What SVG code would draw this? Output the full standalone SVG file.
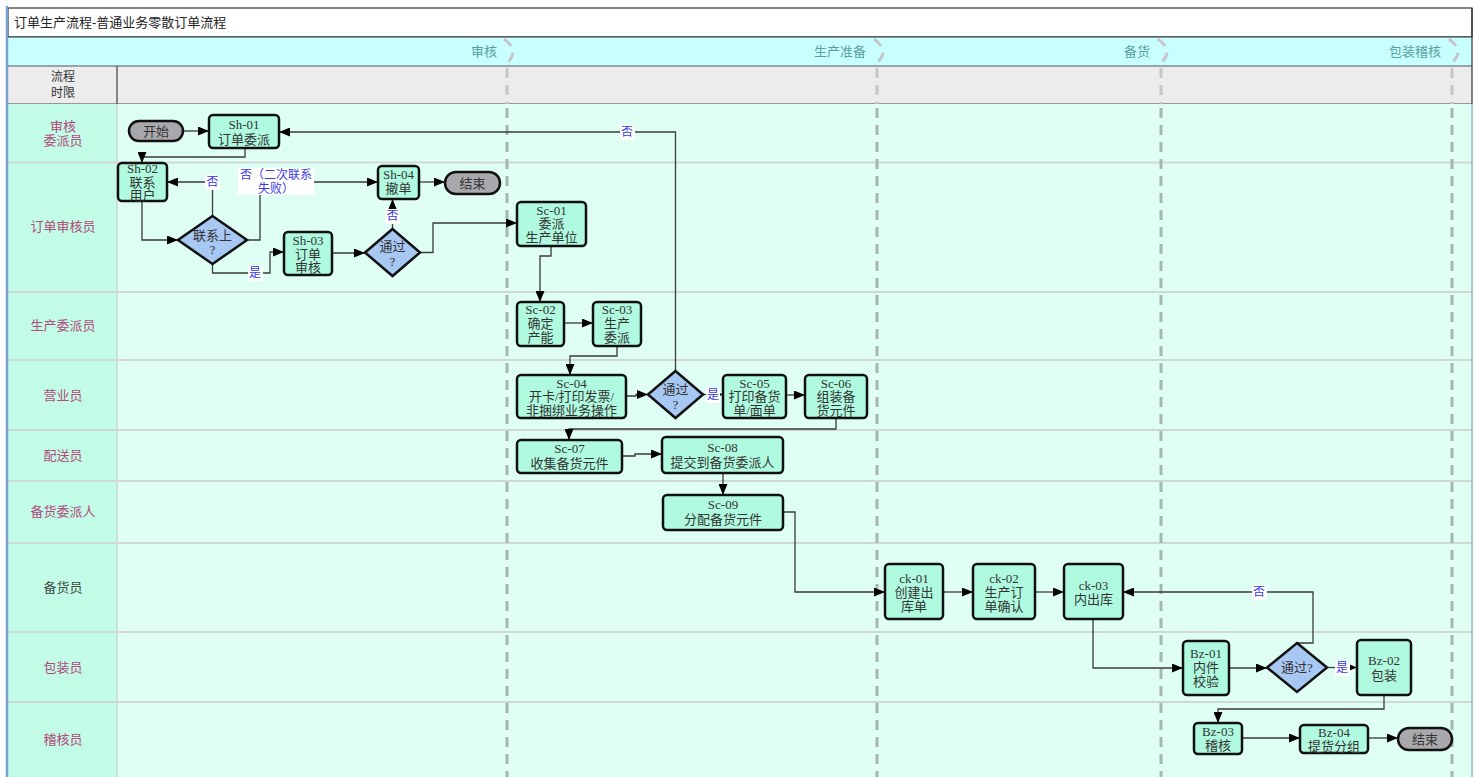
<svg xmlns="http://www.w3.org/2000/svg" width="1474" height="777" viewBox="0 0 1474 777">
  <defs>
    <marker id="arr" markerUnits="userSpaceOnUse" markerWidth="11" markerHeight="9" refX="11" refY="4.5" orient="auto">
      <path d="M0,0 L11,4.5 L0,9 z" fill="#000"/>
    </marker>
    <style>
      .t { font-family: "Liberation Serif", "Noto Sans CJK SC", serif; font-size: 13px; fill: #333; text-anchor: middle; dominant-baseline: central; }
      .lane-t { font-family: "Liberation Sans", "Noto Sans CJK SC", sans-serif; font-size: 13px; fill: #b04a7c; text-anchor: middle; dominant-baseline: central; }
      .phase-t { font-family: "Liberation Sans", "Noto Sans CJK SC", sans-serif; font-size: 13px; fill: #5a9fa0; text-anchor: end; dominant-baseline: central; }
      .node rect { fill: #b0fbe0; stroke: #111; stroke-width: 2.5; }
      .term rect { fill: #a9a9ad; stroke: #111; stroke-width: 2.5; }
      .dec polygon { fill: #a8c8f4; stroke: #111; stroke-width: 2.5; }
      .conn path { fill: none; stroke: #3a3a3a; stroke-width: 1.3; }
      .conn path.a { marker-end: url(#arr); }
      .lbl rect { fill: #fff; }
      .lbl text { font-family: "Liberation Serif", "Noto Sans CJK SC", serif; font-size: 12px; fill: #3a3adf; text-anchor: middle; dominant-baseline: central; }
      .lane-line { stroke: #cfd8d4; stroke-width: 2; }
      .sep { fill: none; stroke: #a6b6b0; stroke-width: 3; stroke-dasharray: 10 7; }
      .sep-h { fill: none; stroke: #c6c6c6; stroke-width: 3; stroke-dasharray: 10 7; }
    </style>
  </defs>

  <!-- page background -->
  <rect x="0" y="0" width="1474" height="777" fill="#fff"/>

  <!-- frame: title, phase row, time row -->
  <g id="frame">
    <rect x="8" y="8" width="1464" height="29" fill="#fff" stroke="#333" stroke-width="1.2"/>
    <text x="14" y="22.5" font-family="Liberation Sans, Noto Sans CJK SC, sans-serif" font-size="13" fill="#222" dominant-baseline="central">订单生产流程-普通业务零散订单流程</text>
    <rect x="8" y="37" width="1464" height="29" fill="#c8ffff"/>
    <rect x="8" y="66" width="1464" height="38" fill="#ececec"/>
    <line x1="8" y1="37" x2="1472" y2="37" stroke="#333" stroke-width="1.2"/>
    <line x1="8" y1="66" x2="1472" y2="66" stroke="#555" stroke-width="1.2"/>
    <line x1="8" y1="104" x2="1472" y2="104" stroke="#444" stroke-width="1.2"/>
    <line x1="117" y1="66" x2="117" y2="104" stroke="#444" stroke-width="1.2"/>
    <text class="t" x="63" y="77" style="font-size: 12px">流程</text>
    <text class="t" x="63" y="93" style="font-size: 12px">时限</text>
    <text class="phase-t" x="497" y="51.5">审核</text>
    <text class="phase-t" x="866" y="51.5">生产准备</text>
    <text class="phase-t" x="1150" y="51.5">备货</text>
    <text class="phase-t" x="1441" y="51.5">包装稽核</text>
  </g>

  <!-- swimlanes -->
  <g id="lanes">
    <rect x="8" y="104" width="1464" height="673" fill="#e0fff4"/>
    <rect x="8" y="104" width="109" height="673" fill="#c2fce6"/>
    <line x1="117" y1="104" x2="117" y2="777" stroke="#cdd6d2" stroke-width="1.5"/>
    <line class="lane-line" x1="8" y1="162.5" x2="1472" y2="162.5"/>
    <line class="lane-line" x1="8" y1="292" x2="1472" y2="292"/>
    <line class="lane-line" x1="8" y1="360" x2="1472" y2="360"/>
    <line class="lane-line" x1="8" y1="430" x2="1472" y2="430"/>
    <line class="lane-line" x1="8" y1="481" x2="1472" y2="481"/>
    <line class="lane-line" x1="8" y1="543" x2="1472" y2="543"/>
    <line class="lane-line" x1="8" y1="632" x2="1472" y2="632"/>
    <line class="lane-line" x1="8" y1="702" x2="1472" y2="702"/>
    <text class="lane-t" x="63" y="126">审核</text>
    <text class="lane-t" x="63" y="140">委派员</text>
    <text class="lane-t" x="63" y="226.5">订单审核员</text>
    <text class="lane-t" x="63" y="325">生产委派员</text>
    <text class="lane-t" x="63" y="395">营业员</text>
    <text class="lane-t" x="63" y="455">配送员</text>
    <text class="lane-t" x="63" y="511">备货委派人</text>
    <text class="lane-t" x="63" y="587" style="fill:#3f4a48">备货员</text>
    <text class="lane-t" x="63" y="667">包装员</text>
    <text class="lane-t" x="63" y="739">稽核员</text>
  </g>

  <!-- phase separators -->
  <g id="separators">
    <path class="sep-h" d="M504,39 Q522,52 504,65"/>
    <path class="sep-h" d="M874,39 Q892,52 874,65"/>
    <path class="sep-h" d="M1158,39 Q1176,52 1158,65"/>
    <path class="sep-h" d="M1449,39 Q1467,52 1449,65"/>
    <line class="sep-h" x1="507" y1="68" x2="507" y2="104"/>
    <line class="sep-h" x1="877" y1="68" x2="877" y2="104"/>
    <line class="sep-h" x1="1161" y1="68" x2="1161" y2="104"/>
    <line class="sep-h" x1="1452" y1="68" x2="1452" y2="104"/>
    <line class="sep" x1="507" y1="108" x2="507" y2="777"/>
    <line class="sep" x1="877" y1="108" x2="877" y2="777"/>
    <line class="sep" x1="1161" y1="108" x2="1161" y2="777"/>
    <line class="sep" x1="1452" y1="108" x2="1452" y2="777"/>
  </g>

  <!-- outer edges -->
  <line x1="7" y1="6" x2="7" y2="777" stroke="#7aa0d0" stroke-width="2.5"/>
  <line x1="1472" y1="8" x2="1472" y2="104" stroke="#333" stroke-width="1.2"/>
  <line x1="1472" y1="104" x2="1472" y2="777" stroke="#9fb4c4" stroke-width="1.5"/>

  <!-- connectors -->
  <g id="connectors" class="conn">
    <path class="a" d="M183,131 H209"/>
    <path class="a" d="M245,148 V157 H142 V163"/>
    <path class="a" d="M142,201 V240 H178"/>
    <path class="a" d="M212.5,216 V182 H167"/>
    <path class="a" d="M247,240 H260 V182 H378"/>
    <path class="a" d="M212.5,264 V273 H270 V252 H284"/>
    <path class="a" d="M332,253 H365"/>
    <path class="a" d="M392.5,229 V199"/>
    <path class="a" d="M419,182 H445"/>
    <path class="a" d="M420,252.5 H433 V223 H517"/>
    <path class="a" d="M551,246 V256 H540 V302"/>
    <path class="a" d="M564,323 H593"/>
    <path class="a" d="M617,346 V356 H570 V375"/>
    <path class="a" d="M626,396 H636 V394.5 H648"/>
    <path class="a" d="M675.5,371 V132 H279"/>
    <path class="a" d="M703,394.5 H723"/>
    <path class="a" d="M786,395 H805"/>
    <path class="a" d="M836,418 V429 H569 V440"/>
    <path class="a" d="M622,456 H635 V454 H662"/>
    <path class="a" d="M723,473 V495"/>
    <path class="a" d="M783,512 H795 V592 H885"/>
    <path class="a" d="M943,592 H973"/>
    <path class="a" d="M1035,592 H1064"/>
    <path class="a" d="M1297,643 H1313 V592 H1123"/>
    <path class="a" d="M1093,619 V668 H1183"/>
    <path class="a" d="M1229,668 H1267"/>
    <path class="a" d="M1327,667.5 H1357"/>
    <path class="a" d="M1384,695 V709 H1218 V723"/>
    <path class="a" d="M1242,738 H1300"/>
    <path class="a" d="M1368,738 H1398"/>
  </g>

  <!-- connector labels -->
  <g id="labels" class="lbl">
    <rect x="205" y="175" width="15" height="15"/>
    <text x="212.5" y="182">否</text>
    <rect x="238" y="168" width="76" height="27"/>
    <text x="276" y="175">否（二次联系</text>
    <text x="276" y="189">失败）</text>
    <rect x="248" y="266" width="15" height="15"/>
    <text x="255" y="273">是</text>
    <rect x="385" y="209" width="15" height="15"/>
    <text x="392.5" y="216">否</text>
    <rect x="620" y="125" width="15" height="15"/>
    <text x="627" y="132">否</text>
    <rect x="706" y="388" width="14" height="15"/>
    <text x="713" y="395">是</text>
    <rect x="1252" y="585" width="15" height="15"/>
    <text x="1259" y="592">否</text>
    <rect x="1335" y="661" width="15" height="15"/>
    <text x="1342" y="668">是</text>
  </g>

  <!-- nodes -->
  <g id="start-1" class="term">
    <rect x="129" y="121" width="54" height="20" rx="10"/>
    <text class="t" x="156" y="131">开始</text>
  </g>
  <g id="Sh-01" class="node">
    <rect x="209" y="115" width="70" height="33" rx="4"/>
    <text class="t" x="244" y="124">Sh-01</text>
    <text class="t" x="244" y="139">订单委派</text>
  </g>
  <g id="Sh-02" class="node">
    <rect x="118" y="163" width="49" height="38" rx="4"/>
    <text class="t" x="142.5" y="168">Sh-02</text>
    <text class="t" x="142.5" y="182">联系</text>
    <text class="t" x="142.5" y="195">用户</text>
  </g>
  <g id="dec-contact" class="dec">
    <polygon points="212.5,216 247,240 212.5,264 178,240"/>
    <text class="t" x="212.5" y="235">联系上</text>
    <text class="t" x="212.5" y="249">?</text>
  </g>
  <g id="Sh-03" class="node">
    <rect x="284" y="232" width="48" height="43" rx="4"/>
    <text class="t" x="308" y="240">Sh-03</text>
    <text class="t" x="308" y="254">订单</text>
    <text class="t" x="308" y="267">审核</text>
  </g>
  <g id="dec-review" class="dec">
    <polygon points="392.5,229 420,252.5 392.5,276 365,252.5"/>
    <text class="t" x="392.5" y="246">通过</text>
    <text class="t" x="392.5" y="261">?</text>
  </g>
  <g id="Sh-04" class="node">
    <rect x="378" y="166" width="41" height="33" rx="4"/>
    <text class="t" x="398.5" y="174">Sh-04</text>
    <text class="t" x="398.5" y="188">撤单</text>
  </g>
  <g id="end-1" class="term">
    <rect x="445" y="172" width="55" height="22" rx="11"/>
    <text class="t" x="472.5" y="183">结束</text>
  </g>
  <g id="Sc-01" class="node">
    <rect x="517" y="202" width="69" height="44" rx="4"/>
    <text class="t" x="551.5" y="210">Sc-01</text>
    <text class="t" x="551.5" y="223">委派</text>
    <text class="t" x="551.5" y="237">生产单位</text>
  </g>
  <g id="Sc-02" class="node">
    <rect x="517" y="302" width="47" height="44" rx="4"/>
    <text class="t" x="540.5" y="309">Sc-02</text>
    <text class="t" x="540.5" y="323">确定</text>
    <text class="t" x="540.5" y="337">产能</text>
  </g>
  <g id="Sc-03" class="node">
    <rect x="593" y="302" width="48" height="44" rx="4"/>
    <text class="t" x="617" y="309">Sc-03</text>
    <text class="t" x="617" y="323">生产</text>
    <text class="t" x="617" y="337">委派</text>
  </g>
  <g id="Sc-04" class="node">
    <rect x="517" y="375" width="109" height="43" rx="4"/>
    <text class="t" x="571.5" y="383">Sc-04</text>
    <text class="t" x="571.5" y="396">开卡/打印发票/</text>
    <text class="t" x="571.5" y="410">非捆绑业务操作</text>
  </g>
  <g id="dec-sales" class="dec">
    <polygon points="675.5,371 703,394.5 675.5,418 648,394.5"/>
    <text class="t" x="675.5" y="389">通过</text>
    <text class="t" x="675.5" y="404">?</text>
  </g>
  <g id="Sc-05" class="node">
    <rect x="723" y="375" width="63" height="43" rx="4"/>
    <text class="t" x="754.5" y="383">Sc-05</text>
    <text class="t" x="754.5" y="396">打印备货</text>
    <text class="t" x="754.5" y="410">单/面单</text>
  </g>
  <g id="Sc-06" class="node">
    <rect x="805" y="375" width="62" height="43" rx="4"/>
    <text class="t" x="836" y="383">Sc-06</text>
    <text class="t" x="836" y="396">组装备</text>
    <text class="t" x="836" y="410">货元件</text>
  </g>
  <g id="Sc-07" class="node">
    <rect x="517" y="440" width="105" height="33" rx="4"/>
    <text class="t" x="569.5" y="448">Sc-07</text>
    <text class="t" x="569.5" y="463">收集备货元件</text>
  </g>
  <g id="Sc-08" class="node">
    <rect x="662" y="437" width="121" height="36" rx="4"/>
    <text class="t" x="722.5" y="447">Sc-08</text>
    <text class="t" x="722.5" y="462">提交到备货委派人</text>
  </g>
  <g id="Sc-09" class="node">
    <rect x="663" y="495" width="120" height="35" rx="4"/>
    <text class="t" x="723" y="504">Sc-09</text>
    <text class="t" x="723" y="519">分配备货元件</text>
  </g>
  <g id="ck-01" class="node">
    <rect x="885" y="564" width="58" height="55" rx="4"/>
    <text class="t" x="914" y="578">ck-01</text>
    <text class="t" x="914" y="592">创建出</text>
    <text class="t" x="914" y="606">库单</text>
  </g>
  <g id="ck-02" class="node">
    <rect x="973" y="564" width="62" height="55" rx="4"/>
    <text class="t" x="1004" y="578">ck-02</text>
    <text class="t" x="1004" y="592">生产订</text>
    <text class="t" x="1004" y="606">单确认</text>
  </g>
  <g id="ck-03" class="node">
    <rect x="1064" y="564" width="59" height="55" rx="4"/>
    <text class="t" x="1093.5" y="585">ck-03</text>
    <text class="t" x="1093.5" y="599">内出库</text>
  </g>
  <g id="Bz-01" class="node">
    <rect x="1183" y="641" width="46" height="54" rx="4"/>
    <text class="t" x="1206" y="653">Bz-01</text>
    <text class="t" x="1206" y="667">内件</text>
    <text class="t" x="1206" y="681">校验</text>
  </g>
  <g id="dec-pack" class="dec">
    <polygon points="1297,643 1327,667.5 1297,692 1267,667.5"/>
    <text class="t" x="1297" y="667">通过?</text>
  </g>
  <g id="Bz-02" class="node">
    <rect x="1357" y="640" width="54" height="55" rx="4"/>
    <text class="t" x="1384" y="660">Bz-02</text>
    <text class="t" x="1384" y="675">包装</text>
  </g>
  <g id="Bz-03" class="node">
    <rect x="1194" y="723" width="48" height="31" rx="4"/>
    <text class="t" x="1218" y="731">Bz-03</text>
    <text class="t" x="1218" y="745">稽核</text>
  </g>
  <g id="Bz-04" class="node">
    <rect x="1300" y="725" width="68" height="28" rx="4"/>
    <text class="t" x="1334" y="732">Bz-04</text>
    <text class="t" x="1334" y="746">提货分组</text>
  </g>
  <g id="end-2" class="term">
    <rect x="1398" y="728" width="54" height="22" rx="11"/>
    <text class="t" x="1425" y="739">结束</text>
  </g>
</svg>
